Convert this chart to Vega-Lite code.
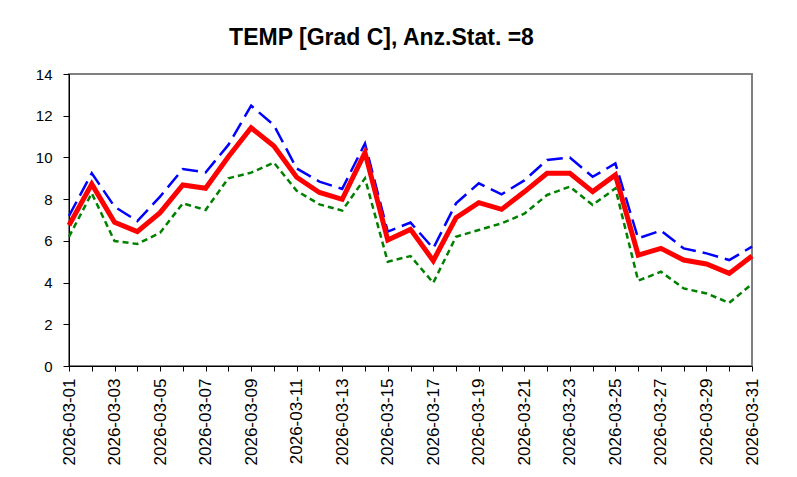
{
  "$schema": "https://vega.github.io/schema/vega-lite/v6.json",
  "autosize": "none",
  "width": 683,
  "height": 292,
  "padding": {"left": 69, "top": 74, "right": 45, "bottom": 111},
  "background": "white",
  "title": {
    "text": "TEMP [Grad C], Anz.Stat. =8",
    "font": "Liberation Sans",
    "fontSize": 23,
    "fontWeight": "bold",
    "color": "black",
    "anchor": "middle",
    "baseline": "alphabetic",
    "offset": 26,
    "dx": -29,
    "dy": 27
  },
  "config": {
    "view": {"stroke": "#808080", "strokeWidth": 2},
    "axis": {"labelFont": "Liberation Sans", "labelColor": "black", "domainColor": "black", "tickColor": "black", "grid": false, "title": null}
  },
  "data": {
    "values": [
      {"date": "2026-03-01", "mean": 6.75, "max": 7.2, "min": 6.2},
      {"date": "2026-03-02", "mean": 8.72, "max": 9.24, "min": 8.28},
      {"date": "2026-03-03", "mean": 6.89, "max": 7.64, "min": 5.99},
      {"date": "2026-03-04", "mean": 6.44, "max": 6.95, "min": 5.85},
      {"date": "2026-03-05", "mean": 7.35, "max": 8.12, "min": 6.39},
      {"date": "2026-03-06", "mean": 8.68, "max": 9.44, "min": 7.8},
      {"date": "2026-03-07", "mean": 8.52, "max": 9.28, "min": 7.48},
      {"date": "2026-03-08", "mean": 10.03, "max": 10.6, "min": 9.0},
      {"date": "2026-03-09", "mean": 11.42, "max": 12.48, "min": 9.27},
      {"date": "2026-03-10", "mean": 10.55, "max": 11.55, "min": 9.75},
      {"date": "2026-03-11", "mean": 9.05, "max": 9.47, "min": 8.4},
      {"date": "2026-03-12", "mean": 8.32, "max": 8.84, "min": 7.75},
      {"date": "2026-03-13", "mean": 7.99, "max": 8.49, "min": 7.45},
      {"date": "2026-03-14", "mean": 10.23, "max": 10.67, "min": 9.0},
      {"date": "2026-03-15", "mean": 6.04, "max": 6.44, "min": 5.0},
      {"date": "2026-03-16", "mean": 6.55, "max": 6.88, "min": 5.27},
      {"date": "2026-03-17", "mean": 5.05, "max": 5.64, "min": 3.99},
      {"date": "2026-03-18", "mean": 7.11, "max": 7.8, "min": 6.2},
      {"date": "2026-03-19", "mean": 7.83, "max": 8.76, "min": 6.52},
      {"date": "2026-03-20", "mean": 7.51, "max": 8.23, "min": 6.84},
      {"date": "2026-03-21", "mean": 8.35, "max": 8.9, "min": 7.3},
      {"date": "2026-03-22", "mean": 9.24, "max": 9.88, "min": 8.2},
      {"date": "2026-03-23", "mean": 9.24, "max": 10.0, "min": 8.6},
      {"date": "2026-03-24", "mean": 8.36, "max": 9.07, "min": 7.72},
      {"date": "2026-03-25", "mean": 9.16, "max": 9.71, "min": 8.52},
      {"date": "2026-03-26", "mean": 5.32, "max": 6.12, "min": 4.09},
      {"date": "2026-03-27", "mean": 5.64, "max": 6.49, "min": 4.52},
      {"date": "2026-03-28", "mean": 5.08, "max": 5.64, "min": 3.72},
      {"date": "2026-03-29", "mean": 4.89, "max": 5.4, "min": 3.48},
      {"date": "2026-03-30", "mean": 4.44, "max": 5.08, "min": 3.03},
      {"date": "2026-03-31", "mean": 5.27, "max": 5.72, "min": 3.93}
    ]
  },
  "encoding": {
    "x": {
      "field": "date",
      "type": "ordinal",
      "scale": {"type": "point", "padding": 0},
      "axis": {
        "labelAngle": -90,
        "labelAlign": "right",
        "labelBaseline": "middle",
        "labelFontSize": 17,
        "labelPadding": 7,
        "tickSize": 5,
        "labelOverlap": false,
        "labelExpr": "toNumber(slice(datum.value, 8)) % 2 == 1 ? datum.value : ''"
      }
    }
  },
  "layer": [
    {
      "mark": {"type": "line", "color": "#0000FF", "strokeWidth": 2.5, "strokeDash": [16, 7]},
      "encoding": {
        "y": {
          "field": "max",
          "type": "quantitative",
          "scale": {"domain": [0, 14], "nice": false},
          "axis": {"values": [0, 2, 4, 6, 8, 10, 12, 14], "labelFontSize": 15, "tickSize": 6, "labelPadding": 11}
        }
      }
    },
    {
      "mark": {"type": "line", "color": "#008000", "strokeWidth": 2.5, "strokeDash": [6, 4]},
      "encoding": {"y": {"field": "min", "type": "quantitative"}}
    },
    {
      "mark": {"type": "line", "color": "#FF0000", "strokeWidth": 5},
      "encoding": {"y": {"field": "mean", "type": "quantitative"}}
    }
  ]
}
